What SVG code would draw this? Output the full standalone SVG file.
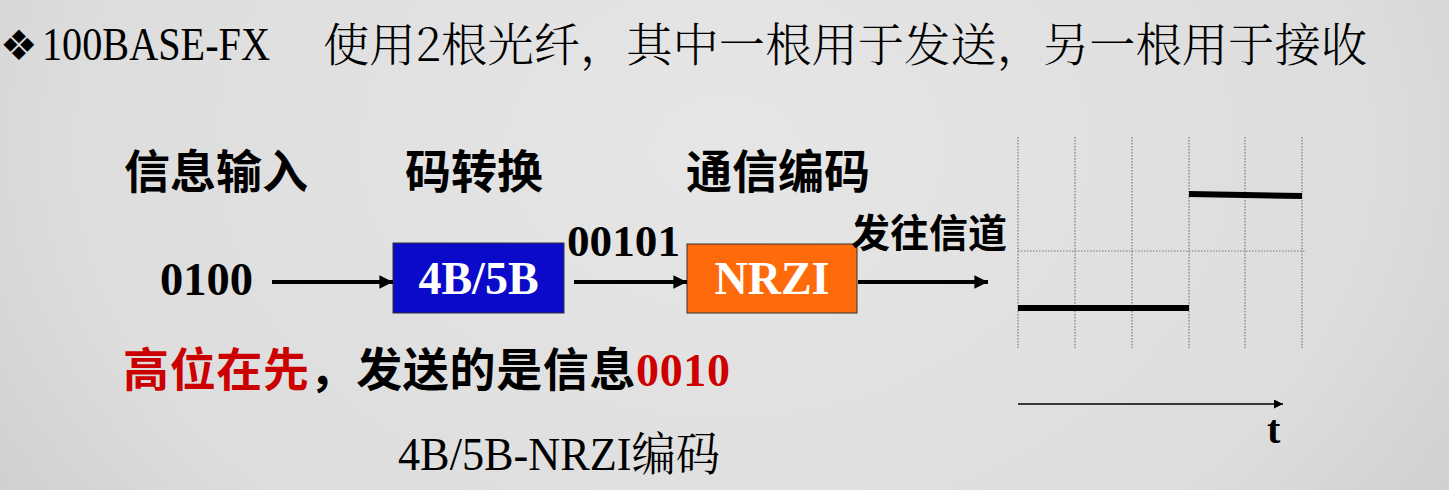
<svg xmlns="http://www.w3.org/2000/svg" width="1449" height="490" viewBox="0 0 1449 490">
<defs>
<radialGradient id="bg" cx="0.5" cy="0.3" r="0.75" gradientTransform="translate(0.5 0.3) scale(1 2.2) translate(-0.5 -0.3)">
<stop offset="0" stop-color="#e6e6e6"/>
<stop offset="0.6" stop-color="#dddddd"/>
<stop offset="1" stop-color="#c2c2c2"/>
</radialGradient>
<marker id="ah" viewBox="0 0 10 10" refX="10" refY="5" markerWidth="3.4" markerHeight="3.4" orient="auto" markerUnits="strokeWidth">
<path d="M0,0 L10,5 L0,10 z" fill="#000"/>
</marker>
<marker id="ahs" viewBox="0 0 10 10" refX="10" refY="5" markerWidth="7" markerHeight="6" orient="auto" markerUnits="strokeWidth">
<path d="M0,0 L10,5 L0,10 z" fill="#000"/>
</marker>
<style>
.title{font-family:"Liberation Serif","Noto Serif CJK SC","Noto Sans CJK SC",serif;font-size:46px;fill:#000;}
.cjkt{font-family:"Noto Serif CJK SC","Noto Sans CJK SC",serif;font-weight:300;}
.lbl{font-family:"Noto Sans CJK SC","Liberation Sans",sans-serif;font-weight:700;font-size:46px;fill:#000;}
.num{font-family:"Liberation Serif",serif;font-weight:700;fill:#000;}
.box{stroke:#333;stroke-width:1;}
.btxt{font-family:"Liberation Serif",serif;font-weight:700;font-size:46px;fill:#fff;text-anchor:middle;}
.conn{stroke:#000;stroke-width:4;fill:none;marker-end:url(#ah);}
.grid{stroke:#7a7a7a;stroke-width:1.2;stroke-dasharray:1.5 1.5;fill:none;}
.sig{stroke:#000;stroke-width:6;fill:none;}
.red{fill:#cc0000;}
</style>
</defs>
<rect width="1449" height="490" fill="url(#bg)"/>

<g id="title">
<text x="0" y="60" style="font-family:'DejaVu Sans',sans-serif;font-size:42px;fill:#000">❖</text>
<text class="title" x="42" y="60" textLength="228" lengthAdjust="spacingAndGlyphs">100BASE-FX</text>
<text class="title cjkt" x="323" y="61" textLength="1044" lengthAdjust="spacingAndGlyphs">使用2根光纤，其中一根用于发送，另一根用于接收</text>
</g>

<g id="stage-labels">
<text class="lbl" x="124" y="188">信息输入</text>
<text class="lbl" x="405" y="188">码转换</text>
<text class="lbl" x="686" y="188">通信编码</text>
</g>

<g id="input">
<text class="num" x="160" y="295" font-size="46" textLength="93" lengthAdjust="spacingAndGlyphs">0100</text>
</g>

<g id="node-4b5b">
<rect class="box" x="393" y="243" width="171" height="70" fill="#0a0ac8"/>
<text class="btxt" x="478.5" y="294">4B/5B</text>
</g>

<g id="label-00101">
<text class="num" x="567" y="256" font-size="45" textLength="113" lengthAdjust="spacingAndGlyphs">00101</text>
</g>

<g id="node-nrzi">
<rect class="box" x="687" y="244" width="170" height="69" fill="#ff6a0a"/>
<text class="btxt" x="772" y="294">NRZI</text>
</g>

<g id="label-channel">
<text class="lbl" x="851" y="247" style="font-size:39px">发往信道</text>
</g>

<g id="connectors">
<line class="conn" x1="272" y1="282" x2="393" y2="282"/>
<line class="conn" x1="574" y1="282" x2="687" y2="282"/>
<line class="conn" x1="858" y1="282" x2="988" y2="282"/>
<line x1="1018" y1="404" x2="1283" y2="404" stroke="#000" stroke-width="1.5" marker-end="url(#ahs)"/>
</g>

<g id="waveform">
<line class="grid" x1="1018" y1="137" x2="1018" y2="348"/>
<line class="grid" x1="1075" y1="137" x2="1075" y2="348"/>
<line class="grid" x1="1132" y1="137" x2="1132" y2="348"/>
<line class="grid" x1="1189" y1="137" x2="1189" y2="348"/>
<line class="grid" x1="1245" y1="137" x2="1245" y2="348"/>
<line class="grid" x1="1302" y1="137" x2="1302" y2="348"/>
<line class="grid" x1="1018" y1="251" x2="1306" y2="251"/>
<line class="sig" x1="1018" y1="308" x2="1189" y2="308"/>
<line class="sig" x1="1189" y1="194" x2="1302" y2="196"/>
<text class="num" x="1267" y="443" font-size="40">t</text>
</g>

<g id="note">
<text class="lbl" x="123" y="386" textLength="607" lengthAdjust="spacing"><tspan class="red">高位在先</tspan>，发送的是信息<tspan class="num red" style="font-size:46px">0010</tspan></text>
</g>

<g id="caption">
<text class="title" x="398" y="470" textLength="322" lengthAdjust="spacingAndGlyphs">4B/5B-NRZI编码</text>
</g>
</svg>
